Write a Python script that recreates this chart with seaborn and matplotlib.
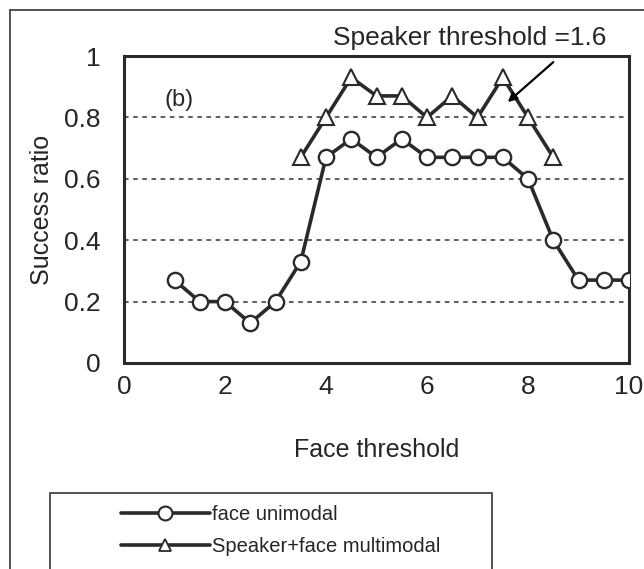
import pandas as pd
import matplotlib
matplotlib.use("Agg")
import matplotlib.pyplot as plt
import seaborn as sns
from matplotlib.patches import Rectangle
from matplotlib.lines import Line2D

# data
face_x = [1, 1.5, 2, 2.5, 3, 3.5, 4, 4.5, 5, 5.5, 6, 6.5, 7, 7.5, 8, 8.5, 9, 9.5, 10]
face_y = [0.27, 0.2, 0.2, 0.13, 0.2, 0.33, 0.67, 0.73, 0.67, 0.73, 0.67, 0.67, 0.67, 0.67, 0.6, 0.4, 0.27, 0.27, 0.27]
multi_x = [3.5, 4, 4.5, 5, 5.5, 6, 6.5, 7, 7.5, 8, 8.5]
multi_y = [0.67, 0.8, 0.93, 0.87, 0.87, 0.8, 0.87, 0.8, 0.93, 0.8, 0.67]
x_ticks = [0, 2, 4, 6, 8, 10]
y_ticks = [0, 0.2, 0.4, 0.6, 0.8, 1]
y_tick_labels = ["0", "0.2", "0.4", "0.6", "0.8", "1"]
labels = ["face unimodal", "Speaker+face multimodal"]

sns.set_style("white")
plt.rcParams['font.family'] = ['Liberation Sans', 'DejaVu Sans']

ink = "#2a2a2a"
fig = plt.figure(figsize=(6.44, 5.69), dpi=100)
ax = fig.add_axes([124 / 644, 1 - 363 / 569, 505 / 644, 307 / 569])

face_df = pd.DataFrame({"x": face_x, "y": face_y})
multi_df = pd.DataFrame({"x": multi_x, "y": multi_y})

sns.lineplot(data=face_df, x="x", y="y", ax=ax, color=ink, lw=2.6, marker="o",
             markersize=11, markerfacecolor="white", markeredgecolor=ink,
             markeredgewidth=1.7, zorder=3)
sns.lineplot(data=multi_df, x="x", y="y", ax=ax, color=ink, lw=2.6, marker="^",
             markersize=11.5, markerfacecolor="white", markeredgecolor=ink,
             markeredgewidth=1.5, zorder=3)

ax.set_xlim(0, 10)
ax.set_ylim(0, 1)
ax.set_xticks(x_ticks)
ax.set_yticks(y_ticks)
ax.set_yticklabels(y_tick_labels)
for yv in y_ticks[1:-1]:
    ax.axhline(yv, color="#333333", lw=1.1, ls=(0, (3, 3)), zorder=1)

for s in ax.spines.values():
    s.set_visible(True)
    s.set_color(ink)
    s.set_linewidth(2.2)
ax.tick_params(axis="both", direction="out", length=6, width=1.5, color=ink,
               labelsize=19, pad=3)
ax.tick_params(axis="y", pad=11)
ax.set_xlabel("Face threshold", fontsize=18, labelpad=28)
ax.set_ylabel("Success ratio", fontsize=18, labelpad=7)
for lab in ax.get_xticklabels() + ax.get_yticklabels():
    lab.set_clip_on(False)

ax.text(1.1, 0.857, "(b)", fontsize=17, ha="center", va="center")
ax.text(6.85, 1.06, "Speaker threshold =1.6", fontsize=19, ha="center",
        va="center", clip_on=False)
ax.annotate("", xy=(7.6, 0.85), xytext=(8.5, 0.98),
            arrowprops=dict(arrowstyle="-|>", color="black", lw=1.6,
                            mutation_scale=13, shrinkA=0, shrinkB=0),
            annotation_clip=False)

# outer frame and legend box, both running off the page
fig.patches.append(Rectangle((10 / 644, -0.1), 1.2, 1 - 10 / 569 + 0.1,
                             transform=fig.transFigure, fill=False,
                             edgecolor="#444444", lw=1.3))
fig.patches.append(Rectangle((50 / 644, -0.1), 442 / 644, (569 - 493) / 569 + 0.1,
                             transform=fig.transFigure, fill=False,
                             edgecolor="#444444", lw=1.3))

handles = [
    Line2D([], [], color=ink, lw=2.6, marker="o", markersize=10,
           markerfacecolor="white", markeredgecolor=ink, markeredgewidth=1.5),
    Line2D([], [], color=ink, lw=2.6, marker="^", markersize=8,
           markerfacecolor="white", markeredgecolor=ink, markeredgewidth=1.3),
]
fig.legend(handles, labels, loc="upper left",
           bbox_to_anchor=(113 / 644, 1 - 497 / 569), frameon=False,
           fontsize=14.5, handlelength=4.4, handletextpad=0.1, labelspacing=0.65,
           borderaxespad=0)

fig.savefig("out.png", dpi=100)
